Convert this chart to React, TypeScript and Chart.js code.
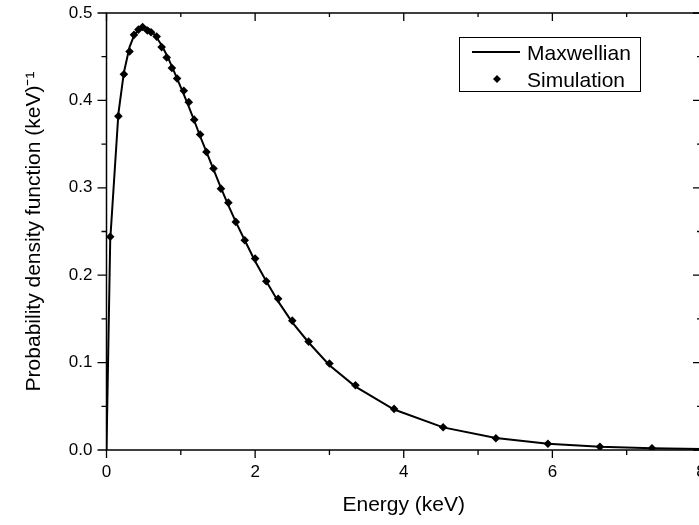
import React, { useEffect, useRef } from "react";
import { Chart, registerables } from "chart.js";

Chart.register(...registerables);

// ---- data ----
const energyKeV = [0.05, 0.16, 0.234, 0.31, 0.37, 0.43, 0.486, 0.55, 0.6, 0.675, 0.742, 0.81, 0.88, 0.95, 1.04, 1.107, 1.18, 1.26, 1.345, 1.44, 1.54, 1.64, 1.74, 1.86, 2.0, 2.15, 2.31, 2.5, 2.72, 3.0, 3.35, 3.87, 4.53, 5.24, 5.94, 6.64, 7.34];
const simulationPdf = [0.244, 0.382, 0.43, 0.456, 0.475, 0.481, 0.484, 0.48, 0.478, 0.473, 0.461, 0.449, 0.437, 0.425, 0.411, 0.398, 0.378, 0.361, 0.341, 0.322, 0.299, 0.283, 0.261, 0.24, 0.219, 0.193, 0.173, 0.148, 0.124, 0.099, 0.074, 0.047, 0.026, 0.0134, 0.0072, 0.0036, 0.002];

const maxwellEnergy = [0, 0.05, 0.16, 0.234, 0.31, 0.37, 0.43, 0.486, 0.55, 0.6, 0.675, 0.742, 0.81, 0.88, 0.95, 1.04, 1.107, 1.18, 1.26, 1.345, 1.44, 1.54, 1.64, 1.74, 1.86, 2.0, 2.15, 2.31, 2.5, 2.72, 3.0, 3.35, 3.87, 4.53, 5.24, 5.94, 6.64, 7.34, 8];
const maxwellPdf = [0, 0.24, 0.385, 0.432, 0.461, 0.474, 0.481, 0.484, 0.483, 0.48, 0.472, 0.463, 0.452, 0.439, 0.425, 0.407, 0.393, 0.377, 0.359, 0.341, 0.321, 0.3, 0.28, 0.261, 0.24, 0.216, 0.193, 0.17, 0.146, 0.123, 0.097, 0.0725, 0.0463, 0.0259, 0.0137, 0.0072, 0.0038, 0.002, 0.0011];

const xMajorTicks = [0, 2, 4, 6, 8];
const xMinorTicks = [1, 3, 5, 7];
const yMajorTicks = [0, 0.1, 0.2, 0.3, 0.4, 0.5];
const yMinorTicks = [0.05, 0.15, 0.25, 0.35, 0.45];

const legendLabels = ["Maxwellian", "Simulation"];
const xTitle = "Energy (keV)";
const yTitle = "Probability density function (keV)\u207B\u00B9";

const FONT = "'Liberation Sans', Arial, sans-serif";
const CANVAS_W = 720;
const CANVAS_H = 525;

const framePlugin = {
  id: "frameAndLegend",
  afterDraw(chart: any) {
    const { ctx, chartArea: a, scales } = chart;
    const x = scales.x;
    const y = scales.y;
    ctx.save();
    ctx.strokeStyle = "#000";
    ctx.lineWidth = 1.5;
    ctx.strokeRect(a.left, a.top, a.right - a.left, a.bottom - a.top);

    ctx.lineWidth = 1.3;
    ctx.beginPath();
    for (const v of xMajorTicks) {
      const px = x.getPixelForValue(v);
      ctx.moveTo(px, a.bottom); ctx.lineTo(px, a.bottom + 8);
      ctx.moveTo(px, a.top); ctx.lineTo(px, a.top + 8);
    }
    for (const v of xMinorTicks) {
      const px = x.getPixelForValue(v);
      ctx.moveTo(px, a.bottom); ctx.lineTo(px, a.bottom + 5);
      ctx.moveTo(px, a.top); ctx.lineTo(px, a.top + 4);
    }
    for (const v of yMajorTicks) {
      const py = y.getPixelForValue(v);
      ctx.moveTo(a.left - 9, py); ctx.lineTo(a.left, py);
      ctx.moveTo(a.right - 8, py); ctx.lineTo(a.right, py);
    }
    for (const v of yMinorTicks) {
      const py = y.getPixelForValue(v);
      ctx.moveTo(a.left - 5, py); ctx.lineTo(a.left, py);
      ctx.moveTo(a.right - 4, py); ctx.lineTo(a.right, py);
    }
    ctx.stroke();

    // legend box
    const bx = Math.round(a.right - 242);
    const by = Math.round(a.top + 24);
    const bw = 181;
    const bh = 54;
    ctx.lineWidth = 1;
    ctx.fillStyle = "#fff";
    ctx.fillRect(bx, by, bw, bh);
    ctx.strokeRect(bx + 0.5, by + 0.5, bw, bh);
    ctx.lineWidth = 2;
    ctx.beginPath();
    ctx.moveTo(bx + 13, by + 15);
    ctx.lineTo(bx + 61, by + 15);
    ctx.stroke();
    const cx = bx + 38;
    const cy = by + 42;
    const r = 4;
    ctx.fillStyle = "#000";
    ctx.beginPath();
    ctx.moveTo(cx, cy - r); ctx.lineTo(cx + r, cy); ctx.lineTo(cx, cy + r); ctx.lineTo(cx - r, cy);
    ctx.closePath();
    ctx.fill();
    ctx.font = `21px ${FONT}`;
    ctx.textAlign = "left";
    ctx.textBaseline = "alphabetic";
    ctx.fillText(legendLabels[0], bx + 68, by + 23);
    ctx.fillText(legendLabels[1], bx + 68, by + 50);
    ctx.restore();
  },
};

export default function App() {
  const ref = useRef<HTMLCanvasElement | null>(null);
  useEffect(() => {
    if (!ref.current) return;
    Chart.defaults.font.family = FONT;
    Chart.defaults.color = "#000";
    const chart = new Chart(ref.current, {
      type: "scatter",
      data: {
        datasets: [
          {
            label: legendLabels[1],
            data: energyKeV.map((e, i) => ({ x: e, y: simulationPdf[i] })),
            showLine: false,
            pointStyle: "rectRot",
            pointRadius: 4.3,
            pointBackgroundColor: "#000",
            pointBorderColor: "#000",
            pointBorderWidth: 0,
          },
          {
            label: legendLabels[0],
            data: maxwellEnergy.map((e, i) => ({ x: e, y: maxwellPdf[i] })),
            showLine: true,
            borderColor: "#000",
            borderWidth: 2,
            pointRadius: 0,
            tension: 0,
          },
        ],
      },
      options: {
        animation: false,
        responsive: false,
        devicePixelRatio: 1,
        layout: { padding: { top: 13, right: CANVAS_W - 701, left: 0, bottom: 0 } },
        plugins: { legend: { display: false }, tooltip: { enabled: false } },
        scales: {
          x: {
            type: "linear",
            min: 0,
            max: 8,
            grid: { display: false, drawTicks: false },
            border: { display: false },
            ticks: { stepSize: 2, font: { size: 17 }, color: "#000", padding: 12, maxRotation: 0 },
            title: { display: true, text: xTitle, font: { size: 21 }, color: "#000", padding: { top: 0, bottom: 7 } },
            afterFit: (s: any) => {
              s.height = 75;
              s.paddingLeft = 0;
              s.paddingRight = 0;
            },
          },
          y: {
            type: "linear",
            min: 0,
            max: 0.5,
            grid: { display: false, drawTicks: false },
            border: { display: false },
            ticks: {
              stepSize: 0.1,
              font: { size: 17 },
              color: "#000",
              padding: 14,
              callback: (v: any) => Number(v).toFixed(1),
            },
            title: { display: true, text: yTitle, font: { size: 21 }, color: "#000", padding: { top: 22, bottom: 0 } },
            afterFit: (s: any) => {
              s.width = 106.5;
              s.paddingTop = 0;
              s.paddingBottom = 0;
            },
          },
        },
      },
      plugins: [framePlugin],
    });
    return () => chart.destroy();
  }, []);
  return (
    <div style={{ position: "absolute", left: 0, top: 0, width: 699, height: 525, overflow: "hidden", background: "#fff" }}>
      <canvas ref={ref} width={CANVAS_W} height={CANVAS_H} style={{ display: "block" }} />
    </div>
  );
}
